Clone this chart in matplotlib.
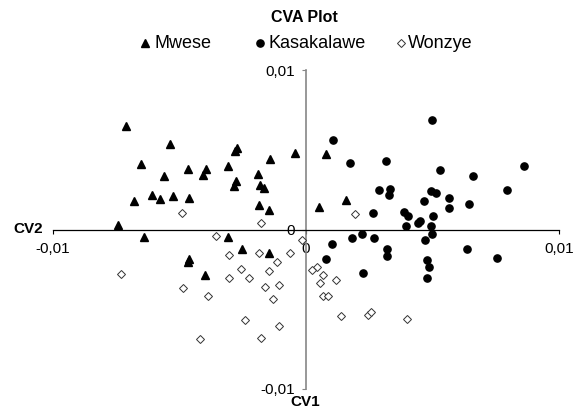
import matplotlib.pyplot as plt
from matplotlib.lines import Line2D

plt.rcParams['font.family'] = ['Liberation Sans', 'DejaVu Sans']

# CV1 (horizontal) and CV2 (vertical) scores, in units of 1e-3
mwese_cv1 = [-7.11, -5.39, -2.74, -2.81, -0.43, -6.52, -1.42, -4.68, -3.95, -4.06,
             -3.07, -5.61, -1.90, -2.77, -2.85, -1.82, -1.67, -6.10, -5.77, -5.27,
             -4.64, -6.81, -1.87, -1.47, -7.44, -6.39, -3.07, -2.53, -1.45, -4.64,
             -4.66, -4.00, 0.79, 0.51, 1.58]
mwese_cv2 = [6.46, 5.33, 5.12, 4.91, 4.78, 4.12, 4.43, 3.81, 3.81, 3.39,
             3.95, 3.37, 3.49, 3.07, 2.74, 2.78, 2.63, 2.18, 1.92, 2.07,
             1.96, 1.76, 1.52, 1.24, 0.29, -0.44, -0.50, -1.21, -1.46, -1.82,
             -2.01, -2.88, 4.75, 1.44, 1.88]

kasa_cv1 = [4.98, 1.08, 1.75, 3.15, 5.28, 8.63, 6.59, 2.87, 3.32, 3.29,
            4.93, 5.13, 7.94, 4.65, 5.66, 5.66, 6.44, 2.66, 3.89, 4.04,
            5.02, 4.49, 4.42, 3.96, 4.95, 2.20, 1.83, 2.70, 4.98, 4.72,
            1.04, 3.21, 3.21, 6.38, 7.54, 0.78, 4.77, 4.87, 2.24, 4.77]
kasa_cv2 = [6.85, 5.64, 4.18, 4.31, 3.76, 3.99, 3.34, 2.45, 2.53, 2.19,
            2.40, 2.26, 2.45, 1.80, 1.99, 1.32, 1.57, 1.02, 1.11, 0.86,
            0.83, 0.56, 0.42, 0.23, 0.25, -0.31, -0.52, -0.52, -0.31, -0.65,
            -0.90, -1.24, -1.65, -1.24, -1.77, -1.84, -1.94, -2.32, -2.74, -3.07]

wonzye_cv1 = [-4.90, -1.78, -3.56, -0.16, 1.94, -3.04, -1.85, -0.63, -1.15, -7.31,
              -2.58, -1.45, -3.06, -2.24, -1.06, -1.63, -4.86, -3.86, -1.32, -2.40,
              -1.07, -4.20, -1.77, 0.42, 0.25, 0.66, 0.55, 1.17, 0.66, 0.88,
              1.37, 2.44, 2.57, 3.98]
wonzye_cv2 = [1.05, 0.38, -0.38, -0.66, 0.98, -1.63, -1.49, -1.50, -2.05, -2.78,
              -2.46, -2.61, -3.01, -3.01, -3.47, -3.59, -3.66, -4.14, -4.37, -5.66,
              -6.04, -6.85, -6.82, -2.34, -2.55, -2.88, -3.37, -3.15, -4.18, -4.18,
              -5.44, -5.39, -5.20, -5.62]

groups = ['Mwese', 'Kasakalawe', 'Wonzye']
ticks = [-0.01, 0, 0.01]
tick_labels = ['-0,01', '0', '0,01']


def scale(vals):
    return [v / 1000 for v in vals]


W, H = 581, 417
fig = plt.figure(figsize=(W / 100, H / 100), dpi=100)
ax = fig.add_axes([53 / W, 1 - 389 / H, 506 / W, 319 / H])

styles = [
    dict(marker='^', ms=6.3, color='black'),
    dict(marker='o', ms=5.2, color='black'),
    dict(marker='D', ms=4, mfc='white', mec='#333333', mew=0.7),
]
series = [(mwese_cv1, mwese_cv2), (kasa_cv1, kasa_cv2), (wonzye_cv1, wonzye_cv2)]
for (xs, ys), st in zip(series, styles):
    ax.plot(scale(xs), scale(ys), ls='none', zorder=3, **st)

ax.set_xlim(-0.01, 0.01)
ax.set_ylim(-0.01, 0.01)

# axes cross at the origin
ax.spines['top'].set_visible(False)
ax.spines['right'].set_visible(False)
ax.spines['left'].set_position('zero')
ax.spines['bottom'].set_position('zero')
ax.spines['left'].set_color('#868686')
ax.spines['left'].set_linewidth(1.2)
ax.spines['bottom'].set_color('black')
ax.spines['bottom'].set_linewidth(0.9)

ax.set_xticks(ticks)
ax.set_xticklabels(tick_labels)
ax.set_yticks(ticks)
ax.set_yticklabels(tick_labels)
ax.tick_params(axis='x', direction='out', length=3, pad=6, labelsize=11, color='black')
ax.tick_params(axis='y', direction='out', length=3, pad=5, labelsize=11, color='#868686')

fig.text(304 / W, 1 - 17 / H, 'CVA Plot', ha='center', va='center',
         fontsize=11.5, fontweight='bold')
fig.text(43 / W, 1 - 229 / H, 'CV2', ha='right', va='center',
         fontsize=11, fontweight='bold')
fig.text(305 / W, 1 - 402 / H, 'CV1', ha='center', va='center',
         fontsize=11, fontweight='bold')

# legend row, laid out by hand like the Excel one
marker_x = [145, 260, 401]
label_x = [155, 268, 408]
legend_y = 1 - 43 / H
for name, st, mx, lx in zip(groups, styles, marker_x, label_x):
    fig.add_artist(Line2D([mx / W], [legend_y], ls='none',
                          transform=fig.transFigure, **st))
    fig.text(lx / W, legend_y, name, ha='left', va='center', fontsize=13)

plt.savefig('out.png', dpi=100)
